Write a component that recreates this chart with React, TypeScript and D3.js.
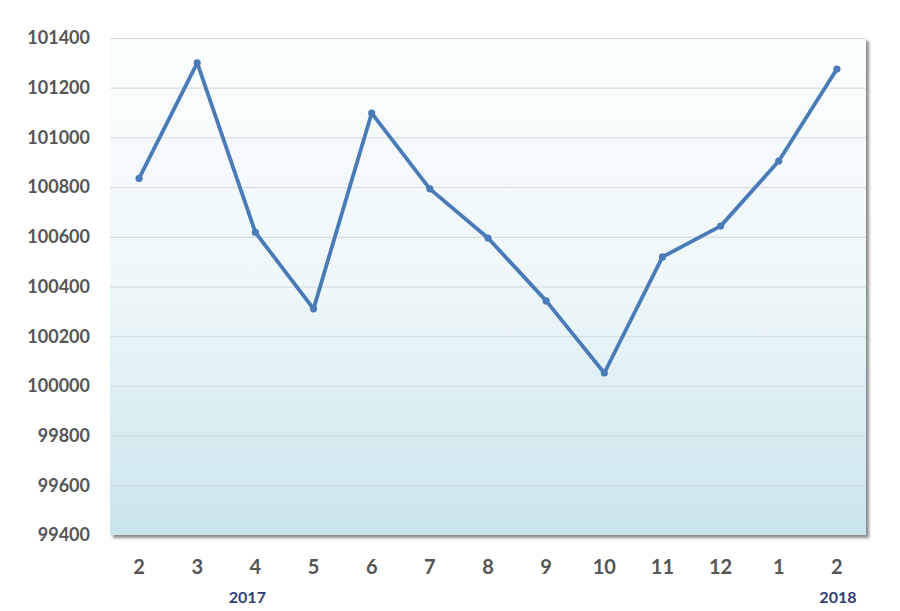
import { useEffect, useRef } from "react";
import * as d3 from "d3";

// month labels along the x axis
const months = ["2", "3", "4", "5", "6", "7", "8", "9", "10", "11", "12", "1", "2"];
// values
const values = [
  100835, 101300, 100618, 100310, 101098, 100793, 100595, 100342, 100052, 100519, 100643,
  100905, 101275,
];
// year labels, placed under the month with same index (shift in px)
const years = [
  { index: 2, label: "2017", shift: -8 },
  { index: 12, label: "2018", shift: 1 },
];
const yTicks = [99400, 99600, 99800, 100000, 100200, 100400, 100600, 100800, 101000, 101200, 101400];

const LineChart = () => {
  const chartRef = useRef(null);

  useEffect(() => {
    const width = 900;
    const height = 611;
    const margin = { top: 38, right: 34, bottom: 76, left: 110 };

    const root = d3.select(chartRef.current);
    root.selectAll("*").remove();

    const svg = root
      .append("svg")
      .attr("width", width)
      .attr("height", height)
      .style("display", "block");

    const defs = svg.append("defs");
    const grad = defs
      .append("linearGradient")
      .attr("id", "bg")
      .attr("x1", 0)
      .attr("y1", 0)
      .attr("x2", 0)
      .attr("y2", 1);
    grad.append("stop").attr("offset", "0%").attr("stop-color", "#fafdfd");
    grad.append("stop").attr("offset", "50%").attr("stop-color", "#eef7f9");
    grad.append("stop").attr("offset", "100%").attr("stop-color", "#c9e4ec");

    const shadow = defs
      .append("filter")
      .attr("id", "shadow")
      .attr("x", "-5%")
      .attr("y", "-5%")
      .attr("width", "110%")
      .attr("height", "110%");
    shadow
      .append("feDropShadow")
      .attr("dx", 3)
      .attr("dy", 3)
      .attr("stdDeviation", 1.5)
      .attr("flood-color", "#000")
      .attr("flood-opacity", 0.45);

    const innerW = width - margin.left - margin.right;
    const innerH = height - margin.top - margin.bottom;

    const x = d3
      .scalePoint()
      .domain(months.map((_, i) => String(i)))
      .range([0, innerW])
      .padding(0.5);

    const y = d3.scaleLinear().domain([99400, 101400]).range([innerH, 0]);

    const g = svg.append("g").attr("transform", `translate(${margin.left},${margin.top})`);

    // plot background with shadow
    g.append("rect")
      .attr("width", innerW)
      .attr("height", innerH)
      .attr("fill", "url(#bg)")
      .attr("filter", "url(#shadow)");

    // gridlines
    g.selectAll(".grid")
      .data(yTicks.slice(1))
      .join("line")
      .attr("x1", 0)
      .attr("x2", innerW)
      .attr("y1", (d) => y(d) + 0.5)
      .attr("y2", (d) => y(d) + 0.5)
      .attr("stroke", "#d3d8da")
      .attr("stroke-width", 1);

    // y axis labels
    g.selectAll(".ylab")
      .data(yTicks)
      .join("text")
      .attr("x", -20)
      .attr("y", (d) => y(d))
      .attr("dy", "0.35em")
      .attr("text-anchor", "end")
      .attr("font-family", "Lato, 'Open Sans', sans-serif")
      .attr("font-weight", "bold")
      .attr("font-size", 18)
      .attr("fill", "#555555")
      .text((d) => d);

    // x axis labels
    g.selectAll(".xlab")
      .data(months)
      .join("text")
      .attr("x", (_, i) => x(String(i)))
      .attr("y", innerH + 32)
      .attr("dy", "0.35em")
      .attr("text-anchor", "middle")
      .attr("font-family", "Lato, 'Open Sans', sans-serif")
      .attr("font-weight", "bold")
      .attr("font-size", 20)
      .attr("fill", "#555555")
      .text((d) => d);

    // years
    g.selectAll(".year")
      .data(years)
      .join("text")
      .attr("x", (d) => x(String(d.index)) + d.shift)
      .attr("y", innerH + 62)
      .attr("dy", "0.35em")
      .attr("text-anchor", "middle")
      .attr("font-family", "Lato, 'Open Sans', sans-serif")
      .attr("font-weight", "bold")
      .attr("font-size", 16)
      .attr("fill", "#2f3d74")
      .text((d) => d.label);

    // line
    const line = d3
      .line<number>()
      .x((_, i) => x(String(i)))
      .y((d) => y(d));

    g.append("path")
      .datum(values)
      .attr("d", line)
      .attr("fill", "none")
      .attr("stroke", "#4a7bb7")
      .attr("stroke-width", 3.8)
      .attr("stroke-linejoin", "round");

    g.selectAll(".pt")
      .data(values)
      .join("circle")
      .attr("cx", (_, i) => x(String(i)))
      .attr("cy", (d) => y(d))
      .attr("r", 3.6)
      .attr("fill", "#4a7bb7");
  }, []);

  return <div ref={chartRef} style={{ margin: -8 }} />;
};

export default function App() {
  return <LineChart />;
}
